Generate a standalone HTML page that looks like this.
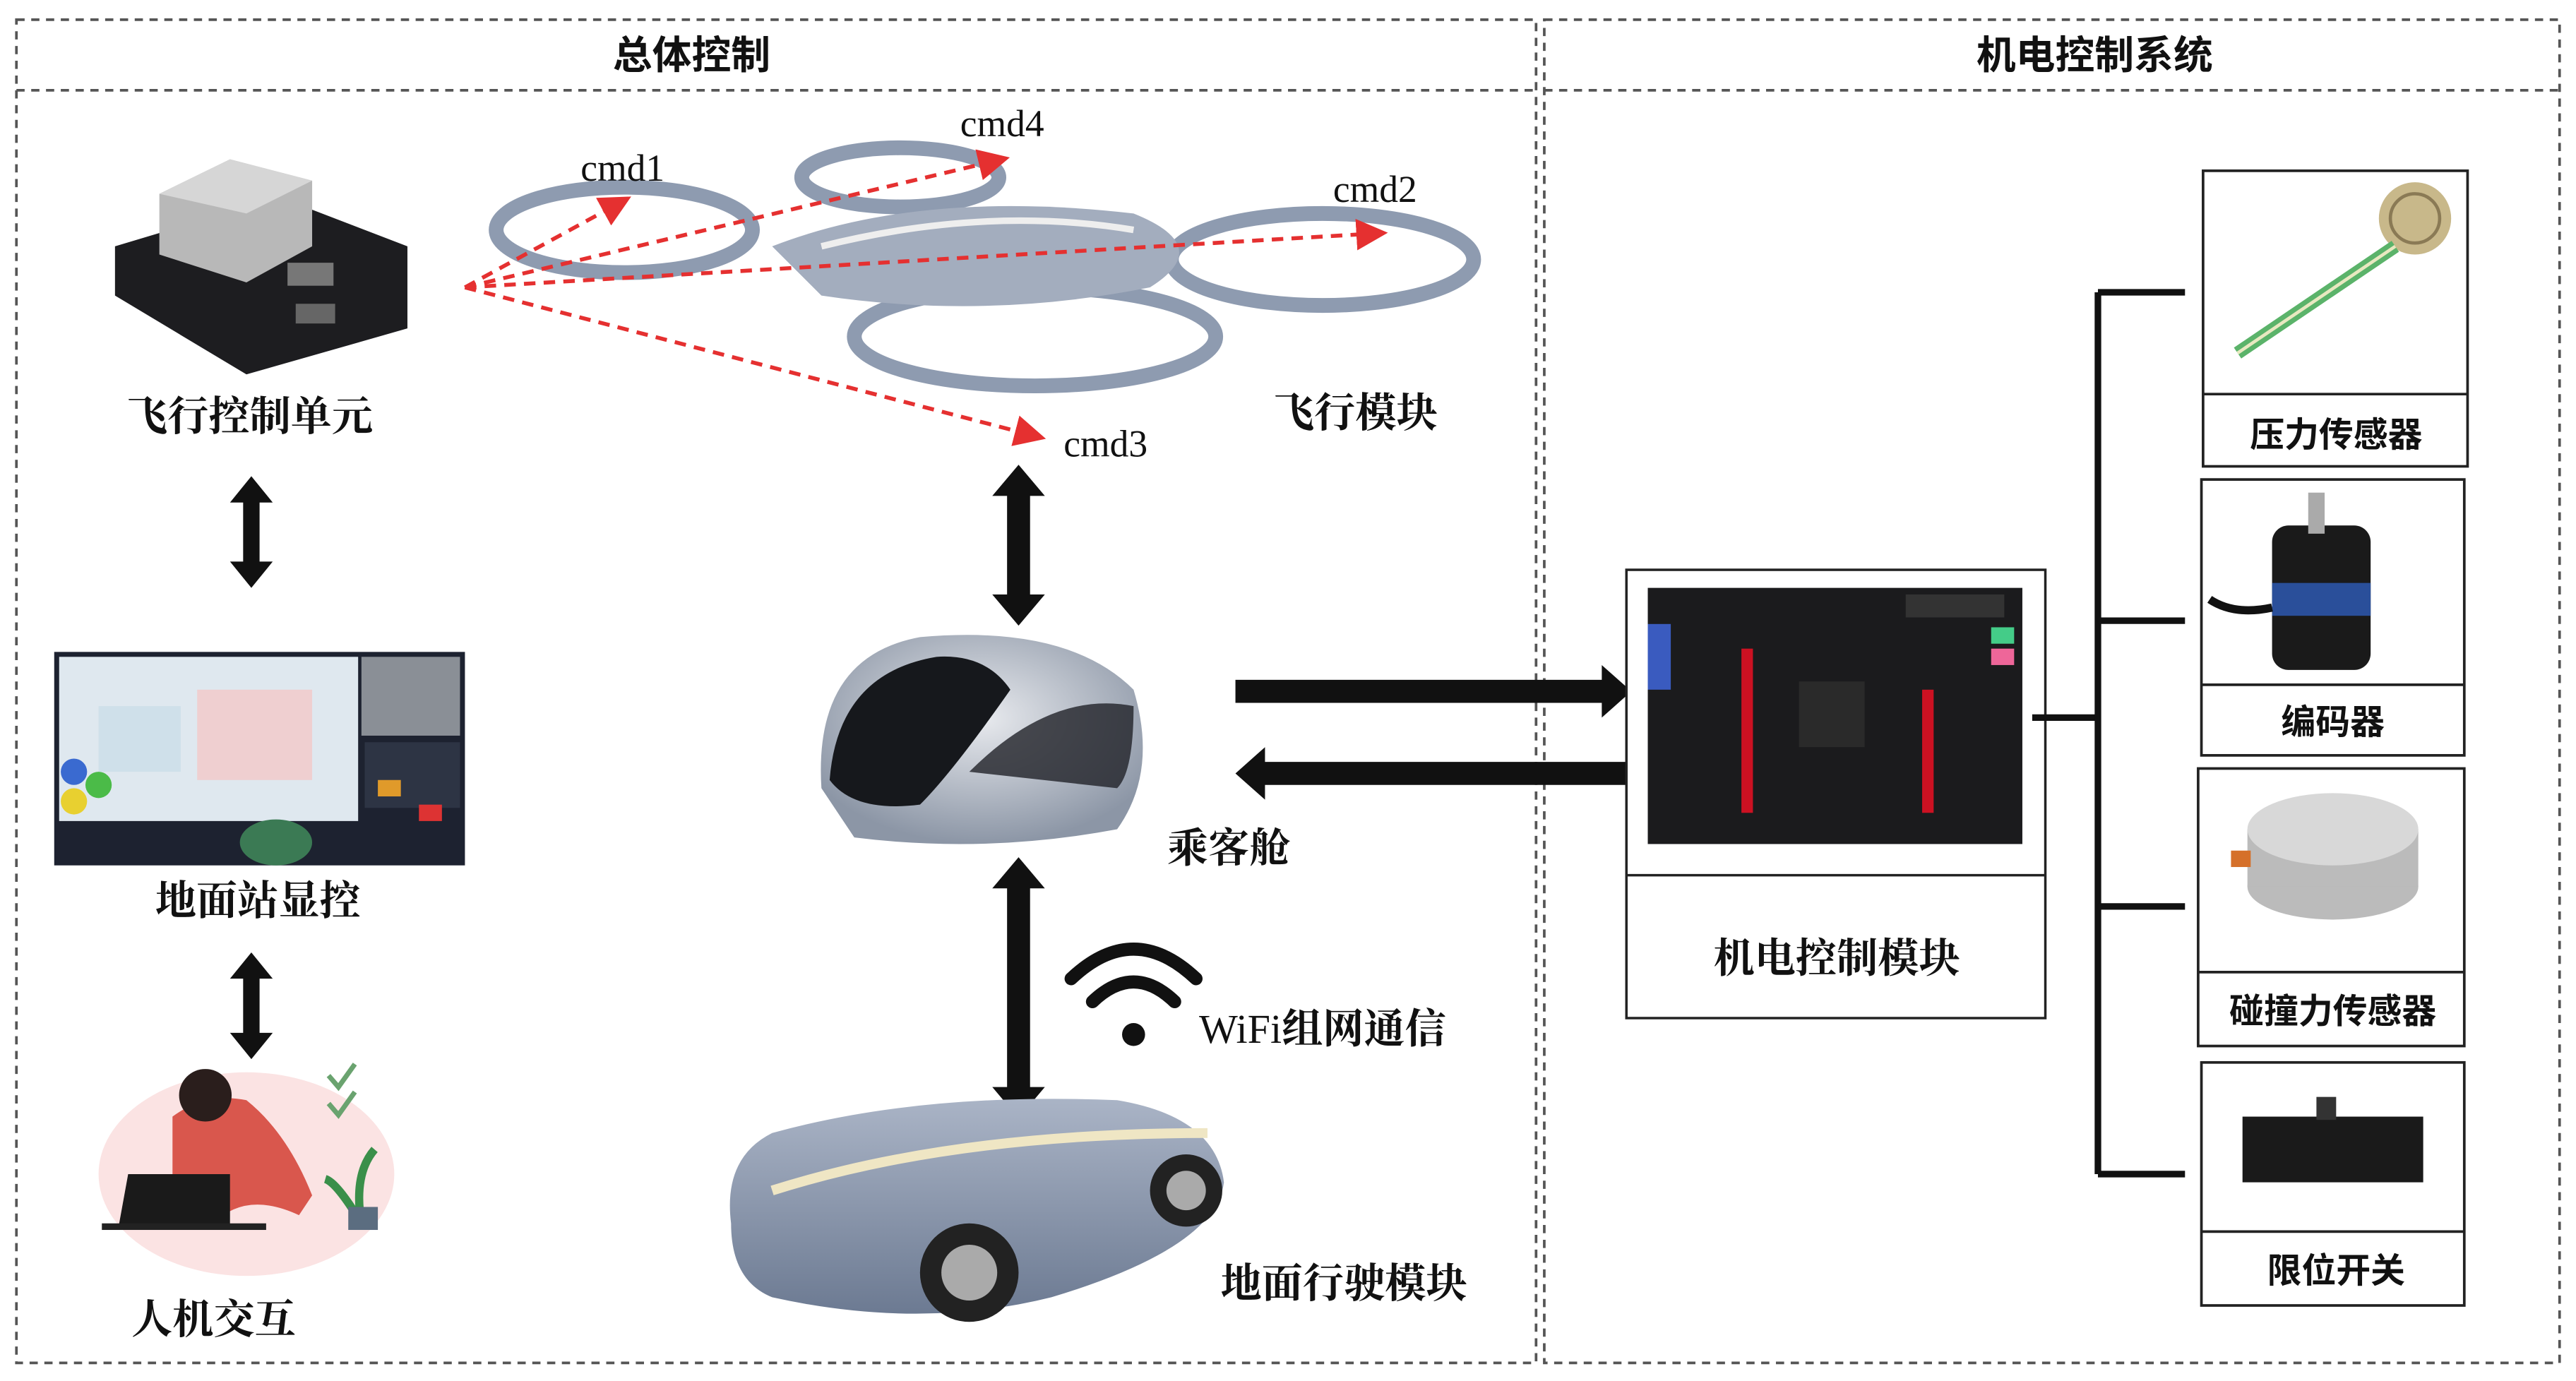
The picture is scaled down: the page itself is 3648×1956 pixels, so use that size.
<!DOCTYPE html>
<html><head><meta charset="utf-8"><style>
html,body{margin:0;padding:0;background:#fff;}
svg{display:block;}
text{font-family:"Liberation Serif","Noto Serif CJK SC",serif;fill:#111;}
.cn{font-family:"Liberation Serif","Noto Serif CJK SC",serif;font-weight:700;}
.hd{font-family:"Liberation Sans","Noto Sans CJK SC",sans-serif;font-weight:700;}
</style></head><body>
<svg width="3648" height="1956" viewBox="0 0 1568 841" preserveAspectRatio="none" xmlns="http://www.w3.org/2000/svg">
<defs>
<marker id="ra" markerWidth="8" markerHeight="8" refX="6" refY="4" orient="auto"><path d="M0,0 L8,4 L0,8 z" fill="#e53030"/></marker>
<radialGradient id="cap" cx="50%" cy="40%" r="60%"><stop offset="0" stop-color="#e8eaee"/><stop offset="1" stop-color="#8c96a6"/></radialGradient>
<linearGradient id="car" x1="0" y1="0" x2="0" y2="1"><stop offset="0" stop-color="#aab4c6"/><stop offset="1" stop-color="#6c7a92"/></linearGradient>
</defs>
<g fill="none" stroke="#555" stroke-width="1.6" stroke-dasharray="5,4">
<rect x="10" y="12" width="925" height="818"/>
<line x1="10" y1="55" x2="935" y2="55"/>
<rect x="940" y="12" width="618" height="818"/>
<line x1="940" y1="55" x2="1558" y2="55"/>
</g>
<text x="421" y="42" class="hd" font-size="24" text-anchor="middle">总体控制</text>
<text x="1275" y="42" class="hd" font-size="24" text-anchor="middle">机电控制系统</text>

<g>
<path d="M70,150 L170,120 L248,150 L248,200 L150,228 L70,180 z" fill="#1d1d20"/>
<path d="M97,118 L140,97 L190,110 L190,150 L150,172 L97,155 z" fill="#b8b8b8"/>
<path d="M97,118 L140,97 L190,110 L150,130 z" fill="#d6d6d6"/>
<rect x="175" y="160" width="28" height="14" fill="#777"/>
<rect x="180" y="185" width="24" height="12" fill="#666"/>
</g>
<text x="152" y="262" class="cn" font-size="25" text-anchor="middle">飞行控制单元</text>

<g fill="#111">
<path d="M153,290 L140,306 L148,306 L148,342 L140,342 L153,358 L166,342 L158,342 L158,306 L166,306 z"/>
<path d="M153,580 L140,596 L148,596 L148,629 L140,629 L153,645 L166,629 L158,629 L158,596 L166,596 z"/>
<path d="M620,283 L604,302 L613,302 L613,362 L604,362 L620,381 L636,362 L627,362 L627,302 L636,302 z"/>
<path d="M620,522 L604,541 L613,541 L613,662 L604,662 L620,681 L636,662 L627,662 L627,541 L636,541 z"/>
</g>

<rect x="33" y="397" width="250" height="130" fill="#1d2230"/>
<rect x="36" y="400" width="182" height="100" fill="#dfe8ef"/>
<rect x="120" y="420" width="70" height="55" fill="#f2c8c8" opacity=".8"/>
<rect x="60" y="430" width="50" height="40" fill="#cfe0ea"/>
<rect x="220" y="400" width="60" height="48" fill="#8a8f96"/>
<rect x="222" y="452" width="58" height="40" fill="#2d3444"/>
<rect x="230" y="475" width="14" height="10" fill="#e09a2a"/><rect x="255" y="490" width="14" height="10" fill="#d33"/>
<circle cx="45" cy="470" r="8" fill="#3a6ad0"/><circle cx="60" cy="478" r="8" fill="#4bbb48"/><circle cx="45" cy="488" r="8" fill="#e8d030"/>
<ellipse cx="168" cy="513" rx="22" ry="14" fill="#3b7a54"/>
<text x="157" y="557" class="cn" font-size="25" text-anchor="middle">地面站显控</text>

<ellipse cx="150" cy="715" rx="90" ry="62" fill="#fbe3e3"/>
<path d="M105,680 Q125,665 150,670 Q175,690 190,728 L182,740 Q150,725 130,745 L105,745 z" fill="#d9574d"/>
<circle cx="125" cy="667" r="16" fill="#2a1e1c"/>
<path d="M72,748 L140,748 L140,715 L78,715 z" fill="#1a1a1a"/>
<rect x="62" y="745" width="100" height="4" fill="#222"/>
<path d="M220,745 Q215,715 228,700 M220,745 Q205,720 198,718" stroke="#3a8f4a" stroke-width="5" fill="none"/>
<rect x="212" y="735" width="18" height="14" fill="#5b6d80"/>
<path d="M200,655 L206,662 L216,648 M200,672 L206,679 L216,665" stroke="#6aa36f" stroke-width="3" fill="none"/>
<text x="130" y="812" class="cn" font-size="25" text-anchor="middle">人机交互</text>

<g fill="none" stroke="#8e9bb0" stroke-width="9">
<ellipse cx="380" cy="140" rx="78" ry="26"/>
<ellipse cx="548" cy="108" rx="60" ry="18"/>
<ellipse cx="805" cy="158" rx="92" ry="28"/>
<ellipse cx="630" cy="205" rx="110" ry="30"/>
</g>
<path d="M470,150 Q560,115 690,130 Q740,150 700,175 Q600,195 500,180 z" fill="#a3adbe"/>
<path d="M500,150 Q600,125 690,140" stroke="#eee" stroke-width="4" fill="none"/>
<g stroke="#e53030" stroke-width="2.4" stroke-dasharray="7,5" fill="none" marker-end="url(#ra)">
<line x1="283" y1="175" x2="380" y2="122"/>
<line x1="283" y1="175" x2="610" y2="97"/>
<line x1="283" y1="175" x2="840" y2="142"/>
<line x1="283" y1="175" x2="632" y2="266"/>
</g>
<text x="379" y="110" font-size="23" text-anchor="middle">cmd1</text>
<text x="610" y="83" font-size="23" text-anchor="middle">cmd4</text>
<text x="837" y="123" font-size="23" text-anchor="middle">cmd2</text>
<text x="673" y="278" font-size="23" text-anchor="middle">cmd3</text>
<text x="825" y="260" class="cn" font-size="25" text-anchor="middle">飞行模块</text>

<path d="M500,480 Q495,400 560,388 Q650,380 690,420 Q705,470 680,505 Q600,520 520,510 z" fill="url(#cap)"/>
<path d="M505,475 Q510,410 570,400 Q600,398 615,420 Q580,470 560,490 Q520,495 505,475 z" fill="#16181c"/>
<path d="M590,470 Q640,420 690,430 Q690,470 680,480 z" fill="#202228" opacity=".8"/>
<text x="748" y="525" class="cn" font-size="25" text-anchor="middle">乘客舱</text>

<g fill="none" stroke="#111" stroke-width="8" stroke-linecap="round">
<path d="M652,596 Q690,560 728,596"/>
<path d="M665,610 Q690,586 715,610"/>
</g>
<circle cx="690" cy="630" r="7" fill="#111"/>
<text x="805" y="635" font-size="25" text-anchor="middle">WiFi<tspan class="cn">组网通信</tspan></text>

<path d="M445,745 Q440,705 470,690 Q560,665 680,670 Q740,680 745,720 Q740,760 640,790 Q560,810 470,790 Q445,780 445,745 z" fill="url(#car)"/>
<path d="M470,725 Q580,690 735,690" stroke="#efe6c4" stroke-width="6" fill="none"/>
<circle cx="590" cy="775" r="30" fill="#222"/><circle cx="590" cy="775" r="17" fill="#aaa"/>
<circle cx="722" cy="725" r="22" fill="#222"/><circle cx="722" cy="725" r="12" fill="#aaa"/>
<text x="818" y="790" class="cn" font-size="25" text-anchor="middle">地面行驶模块</text>

<path d="M752,414 L975,414 L975,405 L993,421 L975,437 L975,428 L752,428 z" fill="#111"/>
<path d="M990,464 L770,464 L770,455 L752,471 L770,487 L770,478 L990,478 z" fill="#111"/>

<rect x="990" y="347" width="255" height="273" fill="#fff" stroke="#222" stroke-width="1.5"/>
<line x1="990" y1="533" x2="1245" y2="533" stroke="#222" stroke-width="1.5"/>
<rect x="1003" y="358" width="228" height="156" fill="#1b1b1d"/>
<rect x="1060" y="395" width="7" height="100" fill="#c12"/><rect x="1170" y="420" width="7" height="75" fill="#c12"/>
<rect x="1003" y="380" width="14" height="40" fill="#3a5bbf"/>
<rect x="1160" y="362" width="60" height="14" fill="#333"/>
<rect x="1212" y="382" width="14" height="10" fill="#4c8"/><rect x="1212" y="395" width="14" height="10" fill="#e69"/>
<rect x="1095" y="415" width="40" height="40" fill="#2a2a2a"/>
<text x="1118" y="592" class="cn" font-size="25" text-anchor="middle">机电控制模块</text>

<g stroke="#111" stroke-width="4" fill="none">
<line x1="1237" y1="437" x2="1277" y2="437"/>
<line x1="1277" y1="178" x2="1277" y2="715"/>
<line x1="1277" y1="178" x2="1330" y2="178"/>
<line x1="1277" y1="378" x2="1330" y2="378"/>
<line x1="1277" y1="552" x2="1330" y2="552"/>
<line x1="1277" y1="715" x2="1330" y2="715"/>
</g>

<g fill="#fff" stroke="#222" stroke-width="1.6">
<rect x="1341" y="104" width="161" height="180"/><line x1="1341" y1="240" x2="1502" y2="240"/>
<rect x="1340" y="292" width="160" height="168"/><line x1="1340" y1="417" x2="1500" y2="417"/>
<rect x="1338" y="468" width="162" height="169"/><line x1="1338" y1="592" x2="1500" y2="592"/>
<rect x="1340" y="647" width="160" height="148"/><line x1="1340" y1="750" x2="1500" y2="750"/>
</g>
<circle cx="1470" cy="133" r="22" fill="#c8b88a"/><circle cx="1470" cy="133" r="15" fill="none" stroke="#8a7a55" stroke-width="2"/>
<path d="M1458,150 L1362,215" stroke="#5bb36a" stroke-width="8"/><path d="M1458,150 L1362,215" stroke="#e8e8c0" stroke-width="2"/>
<rect x="1383" y="320" width="60" height="88" rx="10" fill="#1a1a1a"/><rect x="1383" y="355" width="60" height="20" fill="#2a4f9a"/>
<rect x="1405" y="300" width="10" height="25" fill="#aaa"/>
<path d="M1383,370 Q1360,375 1345,365" stroke="#111" stroke-width="5" fill="none"/>
<ellipse cx="1420" cy="540" rx="52" ry="20" fill="#bbb"/><rect x="1368" y="505" width="104" height="35" fill="#bbb"/><ellipse cx="1420" cy="505" rx="52" ry="22" fill="#d8d8d8"/>
<rect x="1358" y="518" width="12" height="10" fill="#d5702a"/>
<rect x="1365" y="680" width="110" height="40" fill="#1a1a1a"/><rect x="1410" y="668" width="12" height="14" fill="#333"/>
<text x="1422" y="272" class="hd" font-size="21" text-anchor="middle">压力传感器</text>
<text x="1420" y="447" class="hd" font-size="21" text-anchor="middle">编码器</text>
<text x="1420" y="623" class="hd" font-size="21" text-anchor="middle">碰撞力传感器</text>
<text x="1422" y="781" class="hd" font-size="21" text-anchor="middle">限位开关</text>
</svg>
</body></html>
